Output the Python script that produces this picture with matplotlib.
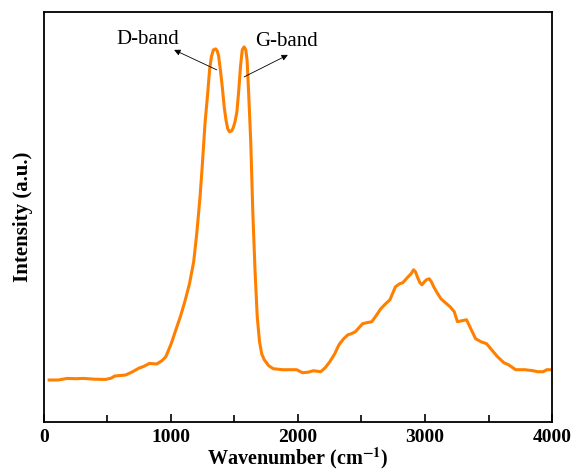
import matplotlib
matplotlib.use('Agg')
import matplotlib.pyplot as plt
from matplotlib.ticker import MultipleLocator

# спектр
wavenumber = [43, 115, 186, 250, 315, 400, 487, 530, 559, 645, 700, 745, 790, 832, 889, 930, 961,
              1004, 1040, 1075, 1110, 1147, 1180, 1204, 1230, 1247, 1270, 1290, 1305, 1319,
              1335, 1353, 1365, 1376, 1390, 1405, 1420, 1434, 1448, 1462, 1478, 1491, 1505,
              1520, 1535, 1548, 1562, 1577, 1590, 1600, 1612, 1629, 1645, 1663, 1680, 1698,
              1715, 1735, 1770, 1806, 1880, 1950, 1990, 2036, 2080, 2122, 2179, 2215, 2251,
              2290, 2323, 2360, 2394, 2420, 2452, 2480, 2509, 2540, 2581, 2615, 2652, 2690,
              2724, 2767, 2800, 2824, 2867, 2890, 2910, 2925, 2939, 2960, 2976, 2995, 3011,
              3033, 3050, 3068, 3095, 3125, 3160, 3197, 3230, 3255, 3290, 3326, 3360, 3398,
              3440, 3484, 3530, 3570, 3620, 3656, 3713, 3785, 3850, 3885, 3930, 3957, 4000]
intensity = [41.7, 41.7, 43.3, 43.0, 43.3, 42.5, 42.3, 43.5, 45.7, 46.7, 50.0, 53.3, 55.5, 58.3, 57.7, 61.0, 65,
             78.3, 92, 105, 120, 138, 160, 188, 225, 255, 300, 328, 352, 365,
             372, 373, 371, 366, 352, 335, 315, 302, 293, 290, 291, 294, 300,
             310, 332, 355, 372, 375, 372, 362, 330, 280, 210, 150, 105, 80,
             68, 62, 56, 53, 52, 52, 52, 49, 49.5, 51, 50, 54, 60,
             68, 77, 83, 87, 88, 90, 94, 98, 99, 100, 106, 113, 118,
             122, 135, 138, 139, 145, 148, 152, 150, 145, 139, 137, 140, 142,
             143, 140, 135, 129, 123, 119, 115, 110, 100, 101, 102, 93, 83,
             80, 78, 71, 65, 59, 57, 52, 52, 51, 50, 50, 52, 52]

plt.rcParams['font.family'] = ['Liberation Serif', 'DejaVu Serif']
plt.rcParams['mathtext.fontset'] = 'stix'

fig = plt.figure(figsize=(5.71, 4.71), dpi=100)
ax = fig.add_axes([0.0765, 0.1047, 0.8905, 0.870])
ax.plot(wavenumber, intensity, color='#FF8000', linewidth=2.2)

ax.set_xlim(0, 4000)
ax.set_ylim(0, 410)
ax.xaxis.set_major_locator(MultipleLocator(1000))
ax.xaxis.set_minor_locator(MultipleLocator(500))
ax.tick_params(axis='x', which='major', direction='in', length=6, width=1.2, labelsize=14, pad=5)
ax.tick_params(axis='x', which='minor', direction='in', length=5, width=1.2)
ax.set_yticks([])
for lbl in ax.get_xticklabels():
    lbl.set_fontweight('bold')
for s in ax.spines.values():
    s.set_linewidth(1.3)

ax.set_xlabel(r'Wavenumber (cm$^{\mathbf{-1}}$)', fontsize=14.5, fontweight='bold', labelpad=0)
ax.set_ylabel('Intensity (a.u.)', fontsize=15, fontweight='bold', labelpad=8)

arrow = dict(arrowstyle='-|>', color='black', lw=0.6, mutation_scale=9, shrinkA=0, shrinkB=0)
ax.annotate('', xy=(1026, 372), xytext=(1362, 352), arrowprops=arrow)
ax.annotate('', xy=(1921, 367), xytext=(1577, 345), arrowprops=arrow)
ax.text(821, 382, 'D-band', fontsize=15, ha='center', va='center')
ax.text(1907, 380, 'G-band', fontsize=15, ha='center', va='center')

fig.savefig('out.png', dpi=100)
